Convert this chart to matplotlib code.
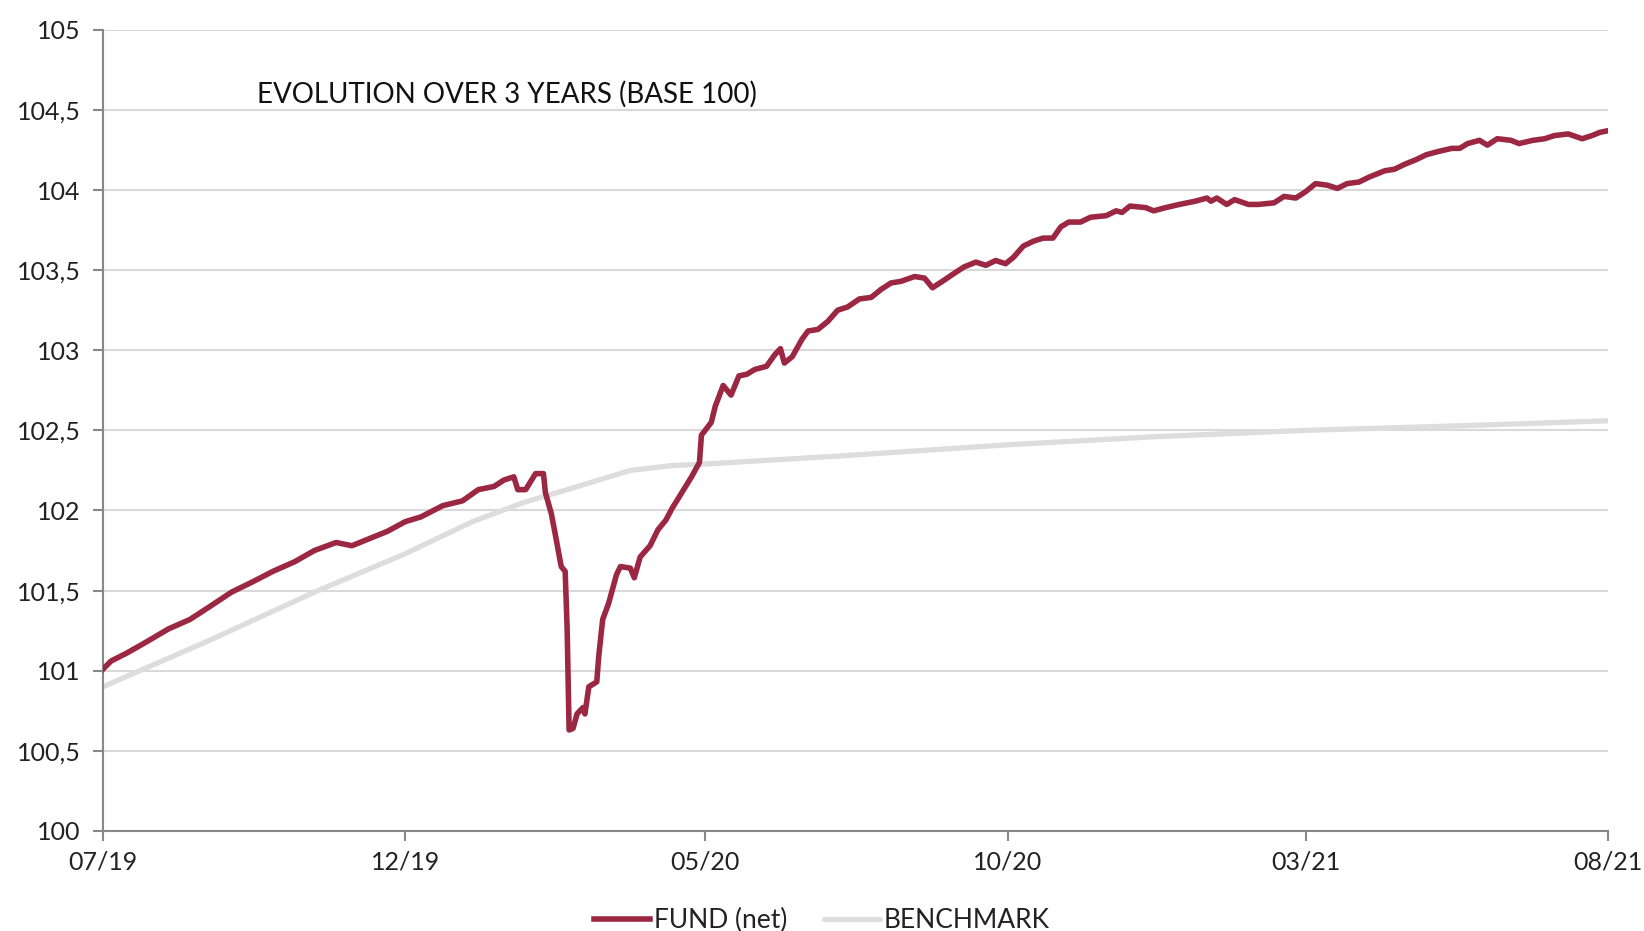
import pandas as pd
import matplotlib
matplotlib.use('Agg')
import matplotlib.pyplot as plt
from matplotlib.ticker import FuncFormatter

# values
fund_dates = [
    '2019-07-31', '2019-08-04', '2019-08-12', '2019-08-22', '2019-09-02', '2019-09-13',
    '2019-09-23', '2019-10-04', '2019-10-14', '2019-10-25', '2019-11-05', '2019-11-15',
    '2019-11-26', '2019-12-04', '2019-12-12', '2019-12-22', '2019-12-31', '2020-01-08',
    '2020-01-19', '2020-01-29', '2020-02-06', '2020-02-14', '2020-02-19', '2020-02-24',
    '2020-02-26', '2020-03-01', '2020-03-03', '2020-03-06', '2020-03-10', '2020-03-11',
    '2020-03-14', '2020-03-16', '2020-03-19', '2020-03-21', '2020-03-22', '2020-03-23',
    '2020-03-25', '2020-03-27', '2020-03-30', '2020-03-31', '2020-04-02', '2020-04-06',
    '2020-04-07', '2020-04-09', '2020-04-12', '2020-04-16', '2020-04-18', '2020-04-23',
    '2020-04-25', '2020-04-28', '2020-05-03', '2020-05-07', '2020-05-11', '2020-05-14',
    '2020-05-19', '2020-05-24', '2020-05-28', '2020-05-29', '2020-06-03', '2020-06-05',
    '2020-06-09', '2020-06-13', '2020-06-17', '2020-06-21', '2020-06-25', '2020-07-01',
    '2020-07-05', '2020-07-08', '2020-07-10', '2020-07-14', '2020-07-19', '2020-07-22',
    '2020-07-27', '2020-08-01', '2020-08-06', '2020-08-11', '2020-08-17', '2020-08-23',
    '2020-08-28', '2020-09-02', '2020-09-07', '2020-09-14', '2020-09-19', '2020-09-23',
    '2020-09-28', '2020-10-04', '2020-10-09', '2020-10-15', '2020-10-20', '2020-10-25',
    '2020-10-30', '2020-11-03', '2020-11-08', '2020-11-13', '2020-11-18', '2020-11-23',
    '2020-11-27', '2020-12-01', '2020-12-07', '2020-12-12', '2020-12-20', '2020-12-25',
    '2020-12-28', '2021-01-01', '2021-01-09', '2021-01-13', '2021-01-19', '2021-01-26',
    '2021-02-03', '2021-02-09', '2021-02-11', '2021-02-14', '2021-02-19', '2021-02-23',
    '2021-03-02', '2021-03-07', '2021-03-15', '2021-03-20', '2021-03-26', '2021-03-31',
    '2021-04-05', '2021-04-11', '2021-04-16', '2021-04-21', '2021-04-27', '2021-05-02',
    '2021-05-10', '2021-05-15', '2021-05-20', '2021-05-26', '2021-05-31', '2021-06-06',
    '2021-06-13', '2021-06-17', '2021-06-21', '2021-06-27', '2021-07-01', '2021-07-06',
    '2021-07-13', '2021-07-17', '2021-07-24', '2021-07-30', '2021-08-04', '2021-08-11',
    '2021-08-18', '2021-08-23', '2021-08-27', '2021-08-31',
]
fund_values = [
    101.01, 101.06, 101.11, 101.18, 101.26, 101.32,
    101.40, 101.49, 101.55, 101.62, 101.68, 101.75,
    101.80, 101.78, 101.82, 101.87, 101.93, 101.96,
    102.03, 102.06, 102.13, 102.15, 102.19, 102.21,
    102.13, 102.13, 102.17, 102.23, 102.23, 102.11,
    101.98, 101.85, 101.65, 101.62, 101.26, 100.63,
    100.64, 100.73, 100.77, 100.73, 100.90, 100.93,
    101.09, 101.32, 101.42, 101.60, 101.65, 101.64,
    101.58, 101.71, 101.78, 101.88, 101.94, 102.01,
    102.11, 102.21, 102.30, 102.47, 102.55, 102.65,
    102.78, 102.72, 102.84, 102.85, 102.88, 102.90,
    102.97, 103.01, 102.92, 102.96, 103.07, 103.12,
    103.13, 103.18, 103.25, 103.27, 103.32, 103.33,
    103.38, 103.42, 103.43, 103.46, 103.45, 103.39,
    103.43, 103.48, 103.52, 103.55, 103.53, 103.56,
    103.54, 103.58, 103.65, 103.68, 103.70, 103.70,
    103.77, 103.80, 103.80, 103.83, 103.84, 103.87,
    103.86, 103.90, 103.89, 103.87, 103.89, 103.91,
    103.93, 103.95, 103.93, 103.95, 103.91, 103.94,
    103.91, 103.91, 103.92, 103.96, 103.95, 103.99,
    104.04, 104.03, 104.01, 104.04, 104.05, 104.08,
    104.12, 104.13, 104.16, 104.19, 104.22, 104.24,
    104.26, 104.26, 104.29, 104.31, 104.28, 104.32,
    104.31, 104.29, 104.31, 104.32, 104.34, 104.35,
    104.32, 104.34, 104.36, 104.37,
]

bench_dates = [
    '2019-07-31', '2019-09-23', '2019-11-15', '2019-12-31', '2020-02-03', '2020-02-29',
    '2020-03-22', '2020-04-07', '2020-04-23', '2020-05-14', '2020-05-31', '2020-08-07',
    '2020-10-31', '2021-01-13', '2021-03-31', '2021-06-21', '2021-08-31',
]
bench_values = [
    100.90, 101.19, 101.49, 101.73, 101.93, 102.05,
    102.13, 102.19, 102.25, 102.28, 102.29, 102.34,
    102.41, 102.46, 102.50, 102.53, 102.56,
]

tick_dates = ['2019-07-31', '2019-12-31', '2020-05-31', '2020-10-31', '2021-03-31', '2021-08-31']
tick_labels = ['07/19', '12/19', '05/20', '10/20', '03/21', '08/21']

fund = pd.Series(fund_values, index=pd.to_datetime(fund_dates))
bench = pd.Series(bench_values, index=pd.to_datetime(bench_dates))

plt.rcParams['font.family'] = ['Lato', 'DejaVu Sans']

fig = plt.figure(figsize=(16.44, 9.31), dpi=100)
ax = fig.add_axes([0.0627, 0.1075, 0.9153, 0.8605])

ax.plot(bench.index, bench.values, color='#dddddd', lw=3.8, solid_capstyle='round', zorder=2,
        label='BENCHMARK')
ax.plot(fund.index, fund.values, color='#9b2743', lw=4.0, solid_joinstyle='round', zorder=3,
        label='FUND (net)')

ax.set_xlim(pd.Timestamp('2019-07-31'), pd.Timestamp('2021-08-31'))
ax.set_ylim(100, 105)
ax.set_yticks([100 + 0.5 * i for i in range(11)])
ax.yaxis.set_major_formatter(FuncFormatter(lambda v, p: ('%g' % v).replace('.', ',')))
ax.set_xticks(pd.to_datetime(tick_dates))
ax.set_xticklabels(tick_labels)

# horizontal grid only
ax.grid(axis='y', color='#d9d9d9', lw=1.5)
ax.set_axisbelow(True)
for s in ['top', 'right']:
    ax.spines[s].set_visible(False)
for s in ['left', 'bottom']:
    ax.spines[s].set_color('#888888')
    ax.spines[s].set_linewidth(1.5)
ax.tick_params(axis='both', colors='#888888', width=1.5, length=7, labelsize=18,
               labelcolor='#222222')
ax.tick_params(axis='y', pad=9)
ax.tick_params(axis='x', pad=7)

ax.text(0.102, 0.919, 'EVOLUTION OVER 3 YEARS (BASE 100)', transform=ax.transAxes,
        fontsize=20, color='#111111', va='center', ha='left')

handles, labels = ax.get_legend_handles_labels()
fig.legend(handles[::-1], labels[::-1], loc='center', bbox_to_anchor=(0.5, 0.011), ncol=2,
           frameon=False, fontsize=19, handlelength=2.1, handletextpad=0.15, columnspacing=1.4,
           labelcolor='#222222')

fig.savefig('out.png', dpi=100)
